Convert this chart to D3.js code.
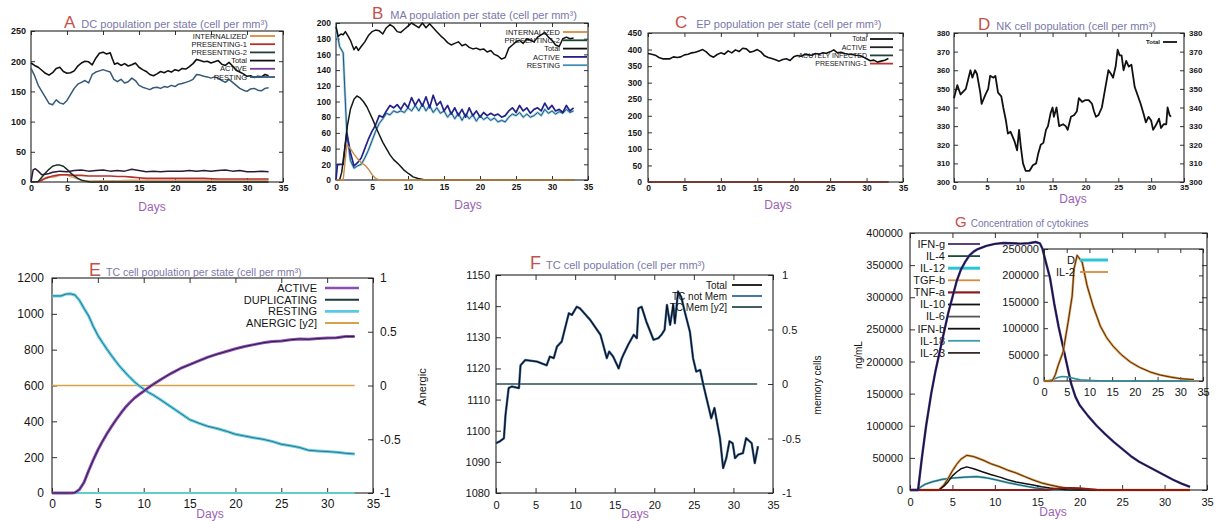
<!DOCTYPE html>
<html>
<head>
<meta charset="utf-8">
<script src="https://cdn.jsdelivr.net/npm/d3@7"></script>
<style>
  body { margin: 0; background: #fff; }
  svg { display: block; }
  text { font-family: "Liberation Sans", Arial, sans-serif; }
</style>
</head>
<body>
<div id="chart"></div>
<script>
// ---------- data ----------
const dayTicks = [0, 5, 10, 15, 20, 25, 30, 35];

// A: DC population per state
const dcStates = ["INTERNALIZED", "PRESENTING-1", "PRESENTING-2", "Total", "ACTIVE", "RESTING"];
const dcTicks = [0, 50, 100, 150, 200, 250];
const dcTotal = [[0,197],[0.5,193],[1,190],[1.5,185],[2,180],[2.5,177],[3,181],[3.5,188],[4,190],[4.5,183],[5,180],[5.5,181],[6,184],[6.5,192],[7,197],[7.5,200],[8,199],[8.5,194],[9,205],[9.5,213],[10,215],[10.5,212],[11,214],[11.3,204],[11.6,195],[12,197],[12.5,193],[13,196],[13.5,192],[14,194],[14.5,197],[15,190],[15.5,186],[16,183],[16.5,178],[17,176],[17.5,179],[18,183],[18.5,181],[19,184],[19.5,182],[20,186],[20.5,184],[21,188],[21.5,187],[22,191],[22.5,196],[23,203],[23.5,201],[24,199],[24.5,200],[25,197],[25.5,199],[26,201],[26.5,195],[27,193],[27.5,198],[28,192],[28.5,185],[29,182],[29.5,179],[30,175],[30.5,176],[31,173],[31.5,175],[32,174],[32.5,178],[33,176]];
const dcResting = [[0,188],[0.5,176],[1,160],[1.5,150],[2,140],[2.5,130],[3,128],[3.5,136],[4,131],[4.5,129],[5,135],[5.5,145],[6,155],[6.5,162],[7,165],[7.5,168],[8,164],[8.5,178],[9,182],[9.5,184],[10,186],[10.5,184],[11,182],[11.5,170],[12,166],[12.5,170],[13,164],[13.5,166],[14,172],[14.5,168],[15,160],[15.5,157],[16,155],[16.5,153],[17,156],[17.5,157],[18,155],[18.5,158],[19,157],[19.5,160],[20,158],[20.5,162],[21,163],[21.5,165],[22,167],[22.5,170],[23,178],[23.5,177],[24,175],[24.5,174],[25,172],[25.5,174],[26,172],[26.5,168],[27,165],[27.5,170],[28,165],[28.5,160],[29,155],[29.5,152],[30,150],[30.5,154],[31,155],[31.5,152],[32,151],[32.5,155],[33,156]];
const dcActive = [[0,0],[0.3,20],[0.6,22],[1,18],[1.5,12],[2,13],[2.5,14],[3,16],[3.5,17],[4,18],[5,17],[6,19],[7,20],[8,18],[9,19],[10,20],[11,18],[12,19],[13,18],[14,21],[15,19],[16,17],[17,18],[18,17],[19,18],[20,18],[21,18],[22,19],[23,18],[24,19],[25,18],[26,19],[27,20],[28,18],[29,19],[30,17],[31,17],[32,18],[33,17]];
const dcPresenting2 = [[0,0],[1,1],[1.5,8],[2,15],[2.5,21],[3,26],[3.5,28],[4,28],[4.5,26],[5,21],[5.5,15],[6,10],[6.5,6],[7,3],[7.5,1.5],[8.2,0],[33,0]];
const dcPresenting1 = [[0,0],[1,0],[1.5,3],[2,6],[2.5,8],[3,10],[3.5,11],[4,12],[5,12],[6,11],[7,11],[8,10],[10,10],[11,10],[12,9],[13,9],[14,8],[15,7],[16,6],[20,6],[24,6],[26,5],[30,5],[33,5]];
const dcInternalized = [[0,0],[1,0],[1.5,4],[2,7],[2.5,9],[3,8],[3.5,9],[4,11],[4.5,12],[5,11],[5.5,9],[6,7],[6.5,5],[7,3],[7.5,2],[8,1.5],[10,2],[12,2],[14,3],[20,3],[25,3],[30,3],[33,3]];

// B: MA population per state
const maStates = ["INTERNALIZED", "PRESENTING-2", "Total", "ACTIVE", "RESTING"];
const maTicks = [0, 20, 40, 60, 80, 100, 120, 140, 160, 180, 200];
const maTotal = [[0,195],[0.3,183],[0.7,186],[1,185],[1.3,189],[1.7,183],[2,178],[2.5,166],[2.8,170],[3.1,165],[3.5,170],[4,176],[4.5,184],[5,189],[5.5,191],[6,190],[6.5,186],[7,194],[7.5,198],[8,195],[8.5,189],[9,188],[9.5,192],[10,196],[10.5,200],[11,197],[11.5,194],[12,200],[12.5,194],[13,199],[13.5,194],[14,189],[14.5,184],[15,180],[15.5,175],[16,172],[16.5,174],[17,176],[17.5,171],[18,173],[18.5,169],[19,167],[19.5,168],[20,166],[20.5,167],[21,163],[21.5,165],[22,160],[22.5,158],[23,154],[23.5,156],[24,168],[24.5,172],[25,176],[25.5,178],[26,174],[26.5,180],[27,178],[27.5,176],[28,182],[28.5,185],[29,188],[29.5,182],[30,178],[30.5,172],[31,170],[31.5,180],[32,182],[32.5,180],[33,181]];
const maResting = [[0,195],[0.5,170],[1,162],[1.2,120],[1.5,60],[2,25],[2.5,15],[3,18],[3.5,20],[4,28],[4.5,38],[5,50],[5.5,62],[6,72],[6.5,78],[7,85],[7.5,83],[8,88],[8.5,86],[9,88],[9.5,86],[10,92],[10.5,88],[11,95],[11.5,88],[12,97],[12.5,88],[13,95],[13.5,86],[14,92],[14.5,85],[15,88],[15.5,80],[16,86],[16.5,78],[17,85],[17.5,76],[18,84],[18.5,78],[19,83],[19.5,75],[20,82],[20.5,77],[21,80],[21.5,76],[22,79],[22.5,74],[23,76],[23.5,74],[24,80],[24.5,84],[25,82],[25.5,86],[26,80],[26.5,84],[27,80],[27.5,82],[28,86],[28.5,82],[29,90],[29.5,85],[30,88],[30.5,84],[31,87],[31.5,85],[32,90],[32.5,86],[33,88]];
const maActive = [[0,0],[0.2,20],[1,20],[1.5,60],[2,35],[2.5,18],[3,22],[3.5,28],[4,40],[4.5,52],[5,62],[5.5,70],[6,82],[6.5,80],[7,88],[7.5,95],[8,92],[8.5,96],[9,90],[9.5,98],[10,92],[10.5,105],[11,95],[11.5,103],[12,94],[12.5,106],[13,92],[13.5,108],[14,95],[14.5,100],[15,88],[15.5,95],[16,84],[16.5,92],[17,82],[17.5,90],[18,80],[18.5,92],[19,82],[19.5,88],[20,80],[20.5,86],[21,82],[21.5,85],[22,82],[22.5,84],[23,80],[23.5,82],[24,88],[24.5,92],[25,86],[25.5,95],[26,88],[26.5,92],[27,85],[27.5,90],[28,92],[28.5,88],[29,98],[29.5,90],[30,95],[30.5,88],[31,90],[31.5,86],[32,95],[32.5,88],[33,92]];
const maPresenting2 = [[0,0],[0.5,0],[0.8,10],[1.2,40],[1.6,70],[2,90],[2.5,103],[2.9,107],[3.3,105],[3.8,100],[4.3,93],[4.7,85],[5.2,75],[5.6,66],[6,58],[6.5,48],[7,40],[7.5,32],[8,26],[8.7,20],[9.4,13],[10.1,8],[10.7,4],[11.4,2],[12.4,0],[33,0]];
const maInternalized = [[0,0],[1,0],[1.5,45],[2,40],[2.5,33],[3,27],[3.5,22],[4,19],[4.5,14],[5,7],[5.5,2],[6,0],[33,0]];

// C: EP population per state
const epStates = ["Total", "ACTIVE", "ACUTELY INFECTED", "PRESENTING-1"];
const epTicks = [0, 50, 100, 150, 200, 250, 300, 350, 400, 450];
const epTotal = [[0,388],[0.5,386],[1,383],[1.5,376],[2,372],[2.5,372],[3,372],[3.5,378],[4,376],[4.5,378],[5,384],[5.5,386],[6,390],[6.5,392],[7,396],[7.5,400],[8,393],[8.5,382],[9,377],[9.5,385],[10,390],[10.5,386],[11,396],[11.5,390],[12,399],[12.5,394],[13,404],[13.5,402],[14,392],[14.5,395],[15,400],[15.5,393],[16,381],[16.5,376],[17,373],[17.5,369],[18,365],[18.5,370],[19,372],[19.5,367],[20,378],[20.5,382],[21,380],[21.5,385],[22,384],[22.5,383],[23,388],[23.5,386],[24,390],[24.5,389],[25,393],[25.5,399],[26,390],[26.5,392],[27,388],[27.5,386],[28,385],[28.5,383],[29,382],[29.5,378],[30,372],[30.5,366],[31,368],[31.5,362],[32,365],[32.5,368],[33,373]];
const epActive = [[0,0],[33,0]];
const epInfected = [[0,0],[33,0]];
const epPresenting1 = [[0,0],[33,0]];

// D: NK cell population
const nkStates = ["Total"];
const nkTicks = [300, 310, 320, 330, 340, 350, 360, 370, 380];
const nkTotal = [[0,345],[0.5,352],[1,347],[1.8,350],[2.5,360],[2.8,356],[3.2,360],[3.5,358],[4,348],[4.2,342],[4.8,347],[5.2,350],[5.5,357],[6,356],[6.3,357],[6.7,348],[7.2,346],[7.5,340],[7.9,333],[8.2,326],[8.6,327],[9.2,322],[9.6,317],[9.9,328],[10.2,318],[10.5,310],[10.9,306],[11.5,306],[12,309],[12.5,310],[12.8,315],[13.2,320],[13.6,321],[14,328],[14.3,330],[14.7,337],[15,340],[15.2,335],[15.6,340],[16,330],[16.6,331],[17,330],[17.3,328],[17.8,335],[18.3,336],[18.7,338],[19,345],[19.5,343],[20,344],[20.5,344],[21,342],[21.3,338],[21.6,335],[22,336],[22.5,340],[23,350],[23.5,360],[23.9,358],[24.2,356],[24.6,362],[24.9,371],[25.2,368],[25.5,368],[25.8,360],[26.2,365],[26.6,362],[27,363],[27.5,351],[28,346],[28.4,342],[28.9,336],[29.2,332],[29.6,335],[30,333],[30.3,328],[30.8,331],[31.2,334],[31.5,329],[31.9,331],[32.3,331],[32.5,340],[32.8,336],[33,335]];

// E: TC cell population per state
const tcStates = ["ACTIVE", "DUPLICATING", "RESTING", "ANERGIC [y2]"];
const tcStateTicks = [0, 200, 400, 600, 800, 1000, 1200];
const y2Ticks = [-1, -0.5, 0, 0.5, 1];
const tcResting = [[0,1100],[1,1100],[1.5,1110],[2,1112],[2.5,1105],[3,1075],[3.5,1030],[4,988],[4.5,930],[5,880],[5.5,840],[6,802],[6.5,766],[7,732],[7.5,700],[8,672],[8.5,645],[9,620],[9.5,598],[10,580],[10.5,562],[11,548],[12,515],[13,480],[14,445],[15,410],[16,390],[17,372],[18,360],[19,345],[20,328],[21,318],[22,308],[23,300],[24,288],[25,272],[26,264],[27,254],[28,238],[29,234],[30,231],[31,228],[32,222],[33,218]];
const tcActive = [[0,0],[1,0],[2,0],[2.5,2],[3,20],[3.5,60],[4,125],[4.5,185],[5,240],[5.5,288],[6,332],[6.5,372],[7,410],[7.5,445],[8,478],[8.5,505],[9,530],[9.5,550],[10,568],[10.5,588],[11,605],[12,638],[13,668],[14,695],[15,716],[16,738],[17,758],[18,775],[19,790],[20,805],[21,818],[22,828],[23,838],[24,845],[25,848],[26,855],[27,860],[28,858],[29,862],[30,865],[31,866],[32,874],[33,874]];
const tcDuplicating = [[0,0],[33,0]];
const tcAnergic = [[0,0],[33,0]];

// F: TC cell population
const tcMemStates = ["Total", "TC not Mem", "TC Mem [y2]"];
const tcTicks = [1080, 1090, 1100, 1110, 1120, 1130, 1140, 1150];
const tcTotal = [[0,1096],[0.5,1096.6],[1,1097.6],[1.2,1105],[1.6,1113.7],[2,1114.2],[2.9,1113.7],[3.1,1121],[3.7,1122.7],[5.2,1122.2],[6.4,1121],[6.8,1123.8],[7.3,1123.3],[7.7,1127],[8.3,1128.6],[9.2,1137.7],[9.6,1137.2],[10.2,1139.8],[10.6,1139.3],[11.9,1135.6],[13.2,1130.8],[14,1123.3],[14.3,1125.4],[14.8,1123.8],[15.5,1120],[15.9,1123.3],[16.1,1124.4],[16.7,1127.6],[17.4,1130.8],[17.8,1129.7],[18,1139.3],[18.4,1139.8],[19,1135],[19.9,1129.2],[20.5,1129.7],[20.9,1130.8],[21.3,1132.4],[21.6,1140.4],[22,1134],[22.4,1140.4],[22.6,1134.5],[23,1144.7],[23.4,1143],[23.9,1137.7],[24.5,1131.8],[24.9,1123.3],[25.3,1119],[25.8,1119.5],[26.2,1114.7],[26.8,1108.3],[27.2,1104],[27.6,1107.3],[28.3,1097.6],[28.7,1088],[29.1,1091.2],[29.5,1096.6],[29.9,1096],[30.2,1091.2],[30.6,1092.3],[31.2,1092.8],[31.6,1097.6],[32.3,1096],[32.7,1089.6],[33.1,1095]];
const tcNotMem = tcTotal; // memory cells stay at 0, so not-memory equals total
const tcMem = [[0,0],[33,0]];

// G: concentration of cytokines
const cytokines = ["IFN-g", "IL-4", "IL-12", "TGF-b", "TNF-a", "IL-10", "IL-6", "IFN-b", "IL-18", "IL-23"];
const cytoTicks = [0, 50000, 100000, 150000, 200000, 250000, 300000, 350000, 400000];
const ifnG = [[0,0],[0.95,0],[1.4,50000],[1.9,100000],[2.5,150000],[3,185000],[3.5,215000],[4,245000],[4.5,275000],[5,300000],[5.5,325000],[6,343000],[6.5,355000],[7,365000],[7.5,371000],[8,375000],[9,380000],[10,383000],[11,384500],[12,384000],[13,383500],[14,384000],[14.8,386000],[15.3,384000],[15.6,376000],[16,355000],[16.5,330000],[17,290000],[17.5,255000],[18,225000],[18.5,195000],[19,165000],[19.5,145000],[20,132000],[21,115000],[22,100000],[23,87000],[24,75000],[25,64000],[26,53000],[27,44000],[28,37000],[29,30000],[30,23000],[31,16000],[32,10000],[33,5000]];
const il4 = [[0,0],[33,0]];
const il12 = [[0,0],[33,0]];
const tgfB = [[0,0],[3.4,0],[4,8000],[4.5,18000],[5,30000],[5.5,40000],[6,48000],[6.7,54000],[7.5,52000],[8.6,46500],[9.5,41000],[10.6,36000],[11.5,31000],[12.5,26500],[13.5,21000],[14.5,15600],[15.5,11000],[16.5,7800],[17.5,5000],[18.4,3000],[19.5,1500],[20.4,500],[21.5,0],[33,0]];
const tnfA = [[0,0],[16,0],[17,1500],[18,3000],[19,3300],[20,2800],[21,1500],[22,300],[23,0],[33,0]];
const il10 = [[0,0],[3.4,0],[4,6000],[4.5,13000],[5,22000],[5.5,28000],[6,33000],[6.7,36000],[7.5,33000],[8.6,28000],[9.5,24000],[10.6,20000],[11.5,16000],[12.5,12500],[13.5,10000],[14.5,7800],[15.5,5000],[16.5,3000],[17.5,1500],[18.4,500],[19.5,0],[33,0]];
const il6 = [[0,0],[33,0]];
const ifnB = [[0,0],[33,0]];
const il18 = [[0,0],[0.9,0],[1.3,5000],[1.8,9000],[2.7,13000],[3.8,16500],[5.1,18700],[6.5,20000],[7.9,20700],[9,19000],[10.2,15600],[11.5,11500],[12.9,7800],[14,5000],[14.9,3000],[16,1200],[17,0],[33,0]];
const il23 = [[0,0],[33,0]];

// G inset
const insetNames = ["D", "IL-2"];
const insetTicks = [0, 50000, 100000, 150000, 200000, 250000];
const insetD = [[0,0],[1,500],[2,3000],[3,6500],[4,8500],[5,8000],[6,6000],[7,4000],[8,2500],[10,1200],[12,500],[15,0],[33,0]];
const il2 = [[0,0],[1.8,0],[2.5,12000],[3.1,29000],[4.2,55000],[5.3,111000],[6.2,161000],[6.6,212000],[7.3,238000],[8.4,225000],[9.5,180000],[10.8,142000],[12.4,104000],[13.8,82000],[15.2,66000],[17,50000],[19,36000],[21,26000],[23.4,17000],[25.5,11500],[27.8,7500],[30,4500],[32.2,3000],[33,2500]];

// panel titles
const titleLetters = ["A", "B", "C", "D", "E", "F", "G"];
const titleTexts = [
  "DC population per state (cell per mm³)",
  "MA population per state (cell per mm³)",
  "EP population per state (cell per mm³)",
  "NK cell population (cell per mm³)",
  "TC cell population per state (cell per mm³)",
  "TC cell population (cell per mm³)",
  "Concentration of cytokines"
];

// ---------- drawing ----------
const svg = d3.select("#chart").append("svg")
    .attr("width", 1220)
    .attr("height", 521);

function styleAxis(sel, size, weight) {
  sel.attr("font-size", size).attr("font-weight", weight);
  sel.select(".domain").remove();
  sel.selectAll(".tick line").attr("stroke", "#333");
  sel.selectAll(".tick text").attr("fill", "#151515");
}

const fmt = d => String(d);

function drawPanel(p) {
  const x = d3.scaleLinear().domain([0, 35]).range([p.left, p.right]);
  const y = d3.scaleLinear().domain(p.yDomain).range([p.bottom, p.top]);
  const y2 = p.y2 ? d3.scaleLinear().domain(p.y2).range([p.bottom, p.top]) : null;
  const g = svg.append("g");
  const tk = p.tick || 4;
  const fw = p.bold ? "bold" : "normal";

  g.append("g").attr("transform", `translate(0,${p.bottom})`)
    .call(d3.axisBottom(x).tickValues(dayTicks).tickSizeInner(-tk).tickSizeOuter(0).tickPadding(p.xPad))
    .call(styleAxis, p.font, fw);
  g.append("g").attr("transform", `translate(0,${p.top})`)
    .call(d3.axisTop(x).tickValues(dayTicks).tickSizeInner(-tk).tickSizeOuter(0).tickFormat(""))
    .call(styleAxis, p.font, fw);
  g.append("g").attr("transform", `translate(${p.left},0)`)
    .call(d3.axisLeft(y).tickValues(p.yTicks).tickSizeInner(-tk).tickSizeOuter(0).tickPadding(p.yPad).tickFormat(fmt))
    .call(styleAxis, p.font, fw);

  let right;
  if (y2) right = d3.axisRight(y2).tickValues(y2Ticks).tickFormat(fmt);
  else if (p.rightLabels) right = d3.axisRight(y).tickValues(p.yTicks).tickFormat(fmt);
  else right = d3.axisRight(y).tickValues(p.yTicks).tickFormat("");
  g.append("g").attr("transform", `translate(${p.right},0)`)
    .call(right.tickSizeInner(-tk).tickSizeOuter(0).tickPadding(p.rPad || 4))
    .call(styleAxis, p.font, fw);

  g.append("rect")
    .attr("x", p.left).attr("y", p.top)
    .attr("width", p.right - p.left).attr("height", p.bottom - p.top)
    .attr("fill", "none").attr("stroke", "#222").attr("stroke-width", 1.1);

  if (p.days) {
    g.append("text").attr("x", p.days[0]).attr("y", p.days[1]).attr("dy", "0.35em")
      .attr("text-anchor", "middle").attr("font-size", p.daysSize || 12)
      .attr("fill", "#9a62b3").text("Days");
  }
  return { x, y, y2, g };
}

function drawLine(P, data, color, width, useY2) {
  const yy = useY2 ? P.y2 : P.y;
  P.g.append("path").datum(data)
    .attr("fill", "none")
    .attr("stroke", color)
    .attr("stroke-width", width)
    .attr("stroke-linejoin", "round")
    .attr("d", d3.line().x(d => P.x(d[0])).y(d => yy(d[1])));
}

function drawLegend(P, L, names, colors, widths) {
  names.forEach((name, i) => {
    const cy = L.y + i * L.dy;
    P.g.append("text").attr("x", L.x).attr("y", cy).attr("dy", "0.35em")
      .attr("text-anchor", "end").attr("font-size", L.font)
      .attr("font-weight", L.bold ? "bold" : "normal")
      .attr("fill", "#151515").text(name);
    P.g.append("line").attr("x1", L.x1).attr("x2", L.x2).attr("y1", cy).attr("y2", cy)
      .attr("stroke", colors[i]).attr("stroke-width", widths ? widths[i] : 1.8);
  });
}

function drawTitle(i, x, y, big, small, gap) {
  const t = svg.append("text").attr("x", x).attr("y", y);
  t.append("tspan").attr("font-size", big).attr("fill", "#c4504c").text(titleLetters[i]);
  t.append("tspan").attr("dx", gap).attr("font-size", small).attr("fill", "#7a78aa").text(titleTexts[i]);
}

function yLabel(text, x, y, size) {
  svg.append("text").attr("transform", `translate(${x},${y}) rotate(-90)`)
    .attr("text-anchor", "middle").attr("dy", "0.35em")
    .attr("font-size", size).attr("fill", "#151515").text(text);
}

// ---- A ----
const A = drawPanel({ left: 31, right: 283, top: 31, bottom: 182, yDomain: [0, 250], yTicks: dcTicks,
  font: 9, bold: true, xPad: 3, yPad: 5, days: [152, 207] });
drawLine(A, dcResting, "#35587a", 1.5);
drawLine(A, dcTotal, "#111", 1.6);
drawLine(A, dcInternalized, "#e0a070", 1.6);
drawLine(A, dcPresenting1, "#b3302c", 1.6);
drawLine(A, dcPresenting2, "#1a2e24", 1.5);
drawLine(A, dcActive, "#2a1a36", 1.5);
drawLegend(A, { x: 247, x1: 250, x2: 275, y: 36, dy: 8.2, font: 7.5 }, dcStates,
  ["#d98b3a", "#b3302c", "#1f4334", "#111", "#7b3d9c", "#35587a"]);
drawTitle(0, 64, 28, 17, 11, 6);

// ---- B ----
const B = drawPanel({ left: 336, right: 588, top: 23, bottom: 180, yDomain: [0, 200], yTicks: maTicks,
  font: 8.5, bold: true, xPad: 4, yPad: 5, days: [468, 205] });
drawLine(B, maResting, "#8fd0ea", 2.4);
drawLine(B, maResting, "#2f4f6f", 1);
drawLine(B, maActive, "#22228a", 1.7);
drawLine(B, maTotal, "#111", 1.5);
drawLine(B, maPresenting2, "#121a16", 1.5);
drawLine(B, maInternalized, "#c98a4a", 1.4);
drawLegend(B, { x: 560, x1: 563, x2: 587, y: 32, dy: 8.3, font: 7.5 }, maStates,
  ["#d98b3a", "#1f4334", "#111", "#22228a", "#3f8fb6"]);
drawTitle(1, 372, 19, 17, 11, 7);

// ---- C ----
const Cp = drawPanel({ left: 648, right: 903, top: 33, bottom: 182, yDomain: [0, 450], yTicks: epTicks,
  font: 8.5, bold: true, xPad: 3, yPad: 6, days: [778, 205] });
drawLine(Cp, epActive, "#111", 1.2);
drawLine(Cp, epInfected, "#1f4334", 1.2);
drawLine(Cp, epPresenting1, "#b3302c", 1.2);
drawLine(Cp, epTotal, "#111", 1.6);
drawLegend(Cp, { x: 867, x1: 870, x2: 893, y: 39, dy: 8.2, font: 7 }, epStates,
  ["#111", "#222", "#1f4334", "#c0302c"]);
drawTitle(2, 675, 28, 17, 11, 9);

// ---- D ----
const D = drawPanel({ left: 954, right: 1184, top: 33, bottom: 182, yDomain: [300, 380], yTicks: nkTicks,
  font: 8, bold: true, xPad: 2, yPad: 4, rightLabels: true, rPad: 5, days: [1073, 199] });
drawLine(D, nkTotal, "#111", 1.8);
drawLegend(D, { x: 1160, x1: 1163, x2: 1177, y: 42, dy: 8, font: 6, bold: true }, nkStates, ["#111"]);
drawTitle(3, 978, 30, 17, 11, 6);

// ---- E ----
const E = drawPanel({ left: 52, right: 373, top: 278, bottom: 493, yDomain: [0, 1200], yTicks: tcStateTicks,
  y2: [-1, 1], font: 12, xPad: 6, yPad: 8, rPad: 7, tick: 5, days: [210, 514] });
drawLine(E, tcDuplicating, "#5fd0c4", 2);
drawLine(E, tcAnergic, "#d4a24a", 1.6, true);
drawLine(E, tcResting, "#62d0ea", 3);
drawLine(E, tcResting, "#2a5560", 0.8);
drawLine(E, tcActive, "#9050c0", 3);
drawLine(E, tcActive, "#1a1a1a", 0.9);
drawLegend(E, { x: 317, x1: 325, x2: 359, y: 288, dy: 11.7, font: 11 }, tcStates,
  ["#8a4fb0", "#1e3b3b", "#5cc9e4", "#d4a24a"], [2.4, 2, 2.6, 2]);
drawTitle(4, 89, 276, 18, 10.5, 5);
yLabel("Anergic", 422, 387, 11);

// ---- F ----
const F = drawPanel({ left: 496, right: 773, top: 275, bottom: 493, yDomain: [1080, 1150], yTicks: tcTicks,
  y2: [-1, 1], font: 11, xPad: 8, yPad: 6, rPad: 9, tick: 5, days: [635, 514] });
drawLine(F, tcMem, "#2b4f4f", 1.6, true);
drawLine(F, tcNotMem, "#3b6fb0", 2.4);
drawLine(F, tcTotal, "#111", 1.2);
drawLegend(F, { x: 727, x1: 732, x2: 762, y: 285, dy: 11, font: 10 }, tcMemStates,
  ["#111", "#2e6a9a", "#2b4f4f"]);
drawTitle(5, 530, 269, 18, 11, 5);
yLabel("memory cells", 817, 385, 10);

// ---- G ----
const G = drawPanel({ left: 910, right: 1207, top: 233, bottom: 490, yDomain: [0, 400000], yTicks: cytoTicks,
  font: 11, xPad: 8, yPad: 7, tick: 5, days: [1053, 512] });
drawLine(G, il4, "#1d4d3a", 1.4);
drawLine(G, il12, "#2ec4d8", 1.4);
drawLine(G, il6, "#444", 1.4);
drawLine(G, ifnB, "#222", 1.4);
drawLine(G, il23, "#3a2a2a", 1.4);
drawLine(G, il18, "#5ab8c8", 2.2);
drawLine(G, il18, "#1f4f5a", 0.9);
drawLine(G, tgfB, "#e09a4a", 2.4);
drawLine(G, tgfB, "#3a2410", 0.9);
drawLine(G, il10, "#111", 1.5);
drawLine(G, tnfA, "#8b1a1a", 2);
drawLegend(G, { x: 945, x1: 948, x2: 980, y: 244, dy: 12.1, font: 11 }, cytokines,
  ["#4a2d6a", "#1d4d3a", "#2ec4d8", "#d98b3a", "#8b1a1a", "#111", "#555", "#111", "#3a9cae", "#3a2a2a"],
  [1.8, 1.8, 3, 1.8, 2.2, 1.8, 1.8, 1.8, 1.8, 1.8]);
drawTitle(6, 955, 227, 15, 10, 4);
yLabel("ng/mL", 858, 355, 10);

// inset
const I = drawPanel({ left: 1044, right: 1203, top: 249, bottom: 381, yDomain: [0, 250000], yTicks: insetTicks,
  font: 11, xPad: 7, yPad: 5, tick: 4 });
drawLine(I, insetD, "#2c8c9c", 1.6);
drawLine(I, il2, "#e09a4a", 2.4);
drawLine(I, il2, "#3a2410", 0.9);
drawLegend(I, { x: 1075, x1: 1080, x2: 1108, y: 260, dy: 12, font: 11 }, insetNames,
  ["#2ec4d8", "#d98b3a"], [3, 1.8]);

// IFN-g drawn last: it runs over the inset in the figure
drawLine(G, ifnG, "#3b2d80", 2.4);
drawLine(G, ifnG, "#161030", 1);
</script>
</body>
</html>
